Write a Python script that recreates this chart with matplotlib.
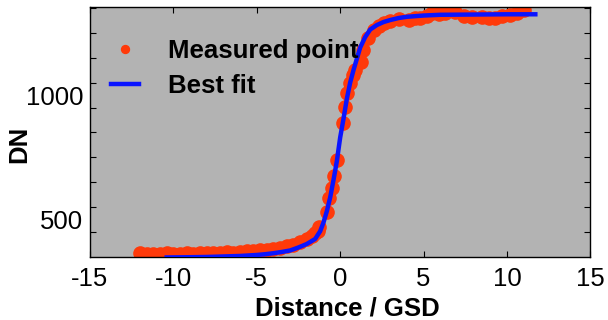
import numpy as np
import matplotlib
matplotlib.use('Agg')
import matplotlib.pyplot as plt
from matplotlib.ticker import MultipleLocator, FixedLocator

plt.rcParams['font.family'] = ['Liberation Sans', 'DejaVu Sans']
plt.rcParams['axes.unicode_minus'] = False

# measured edge profile (distance in GSD, digital number)
meas_x = [-12.0, -11.6, -11.2, -10.8, -10.4, -10.0, -9.6, -9.2, -8.8, -8.4,
          -8.0, -7.6, -7.2, -6.8, -6.4, -6.0, -5.6, -5.2, -4.8, -4.4,
          -4.0, -3.6, -3.2, -2.8, -2.4, -2.0, -1.7, -1.5, -1.35, -1.25,
          -0.79, -0.67, -0.49, -0.37, -0.18, 0.18, 0.30, 0.43, 0.61, 0.79,
          0.91, 1.22, 1.34, 1.65, 2.0, 2.3, 2.6, 3.0, 3.5, 4.1,
          4.5, 4.8, 5.2, 5.5, 5.9, 6.3, 6.9, 7.4, 7.9, 8.5,
          8.9, 9.3, 9.7, 10.2, 10.6, 11.0]
meas_y = [368, 362, 364, 363, 366, 364, 365, 366, 364, 367,
          368, 366, 369, 370, 368, 372, 374, 376, 380, 378,
          384, 388, 394, 398, 410, 422, 436, 446, 456, 470,
          532, 588, 628, 676, 740, 888, 952, 1008, 1048, 1080,
          1100, 1133, 1180, 1228, 1260, 1276, 1288, 1296, 1306, 1300,
          1310, 1308, 1318, 1328, 1325, 1328, 1332, 1318, 1312, 1312,
          1310, 1308, 1316, 1320, 1330, 1340]

# fitted edge spread function
fit_x = [-10.4, -9.0, -8.0, -7.0, -6.0, -5.0, -4.5, -4.0, -3.5, -3.0,
         -2.5, -2.0, -1.5, -1.2, -1.0, -0.8, -0.6, -0.4, -0.2, 0.0,
         0.2, 0.4, 0.6, 0.8, 1.0, 1.2, 1.5, 1.8, 2.2, 2.6,
         3.0, 3.5, 4.0, 5.0, 6.0, 8.0, 10.0, 11.7]
fit_y = [350, 351, 352, 354, 356, 360, 363, 367, 372, 378,
         390, 404, 424, 455, 490, 535, 590, 660, 735, 830,
         905, 985, 1050, 1100, 1145, 1190, 1232, 1262, 1280, 1292,
         1300, 1308, 1313, 1318, 1321, 1322, 1323, 1323]

fig = plt.figure(figsize=(6.08, 3.2), dpi=100)
ax = fig.add_axes([0.148, 0.197, 0.823, 0.781])
ax.set_facecolor('#b3b3b3')

ax.plot(meas_x, meas_y, 'o', color='#ff3a0a', ms=9.5, mec='#ff3a0a',
        label='Measured point', zorder=2)
ax.plot(fit_x, fit_y, '-', color='#0a14ff', lw=3.2, label='Best fit', zorder=3)

ax.set_xlim(-15, 15)
ax.set_ylim(352, 1352)
ax.xaxis.set_major_locator(MultipleLocator(5))
ax.yaxis.set_major_locator(FixedLocator([500, 1000]))
ax.yaxis.set_minor_locator(FixedLocator(np.arange(450, 1400, 100)))
ax.tick_params(axis='both', which='both', direction='in', top=True, right=True,
               labelsize=18.5, width=0.8)
ax.tick_params(axis='x', which='major', length=4, pad=7)
ax.tick_params(axis='y', which='major', length=0, pad=5)
ax.tick_params(axis='y', which='minor', length=4)
for s in ax.spines.values():
    s.set_linewidth(1.0)

ax.set_xlabel('Distance / GSD', fontsize=18.5, fontweight='bold')
ax.xaxis.set_label_coords(0.514, -0.158)
ax.set_ylabel('DN', fontsize=18.5, fontweight='bold')
ax.yaxis.set_label_coords(-0.118, 0.45)

leg = ax.legend(loc='upper left', bbox_to_anchor=(0.006, 0.945), frameon=False,
                markerscale=0.6, handlelength=1.1,
                handletextpad=1.1, labelspacing=0.45, borderaxespad=0.3,
                prop={'weight': 'bold', 'size': 18.5})

fig.savefig('out.png', dpi=100)
